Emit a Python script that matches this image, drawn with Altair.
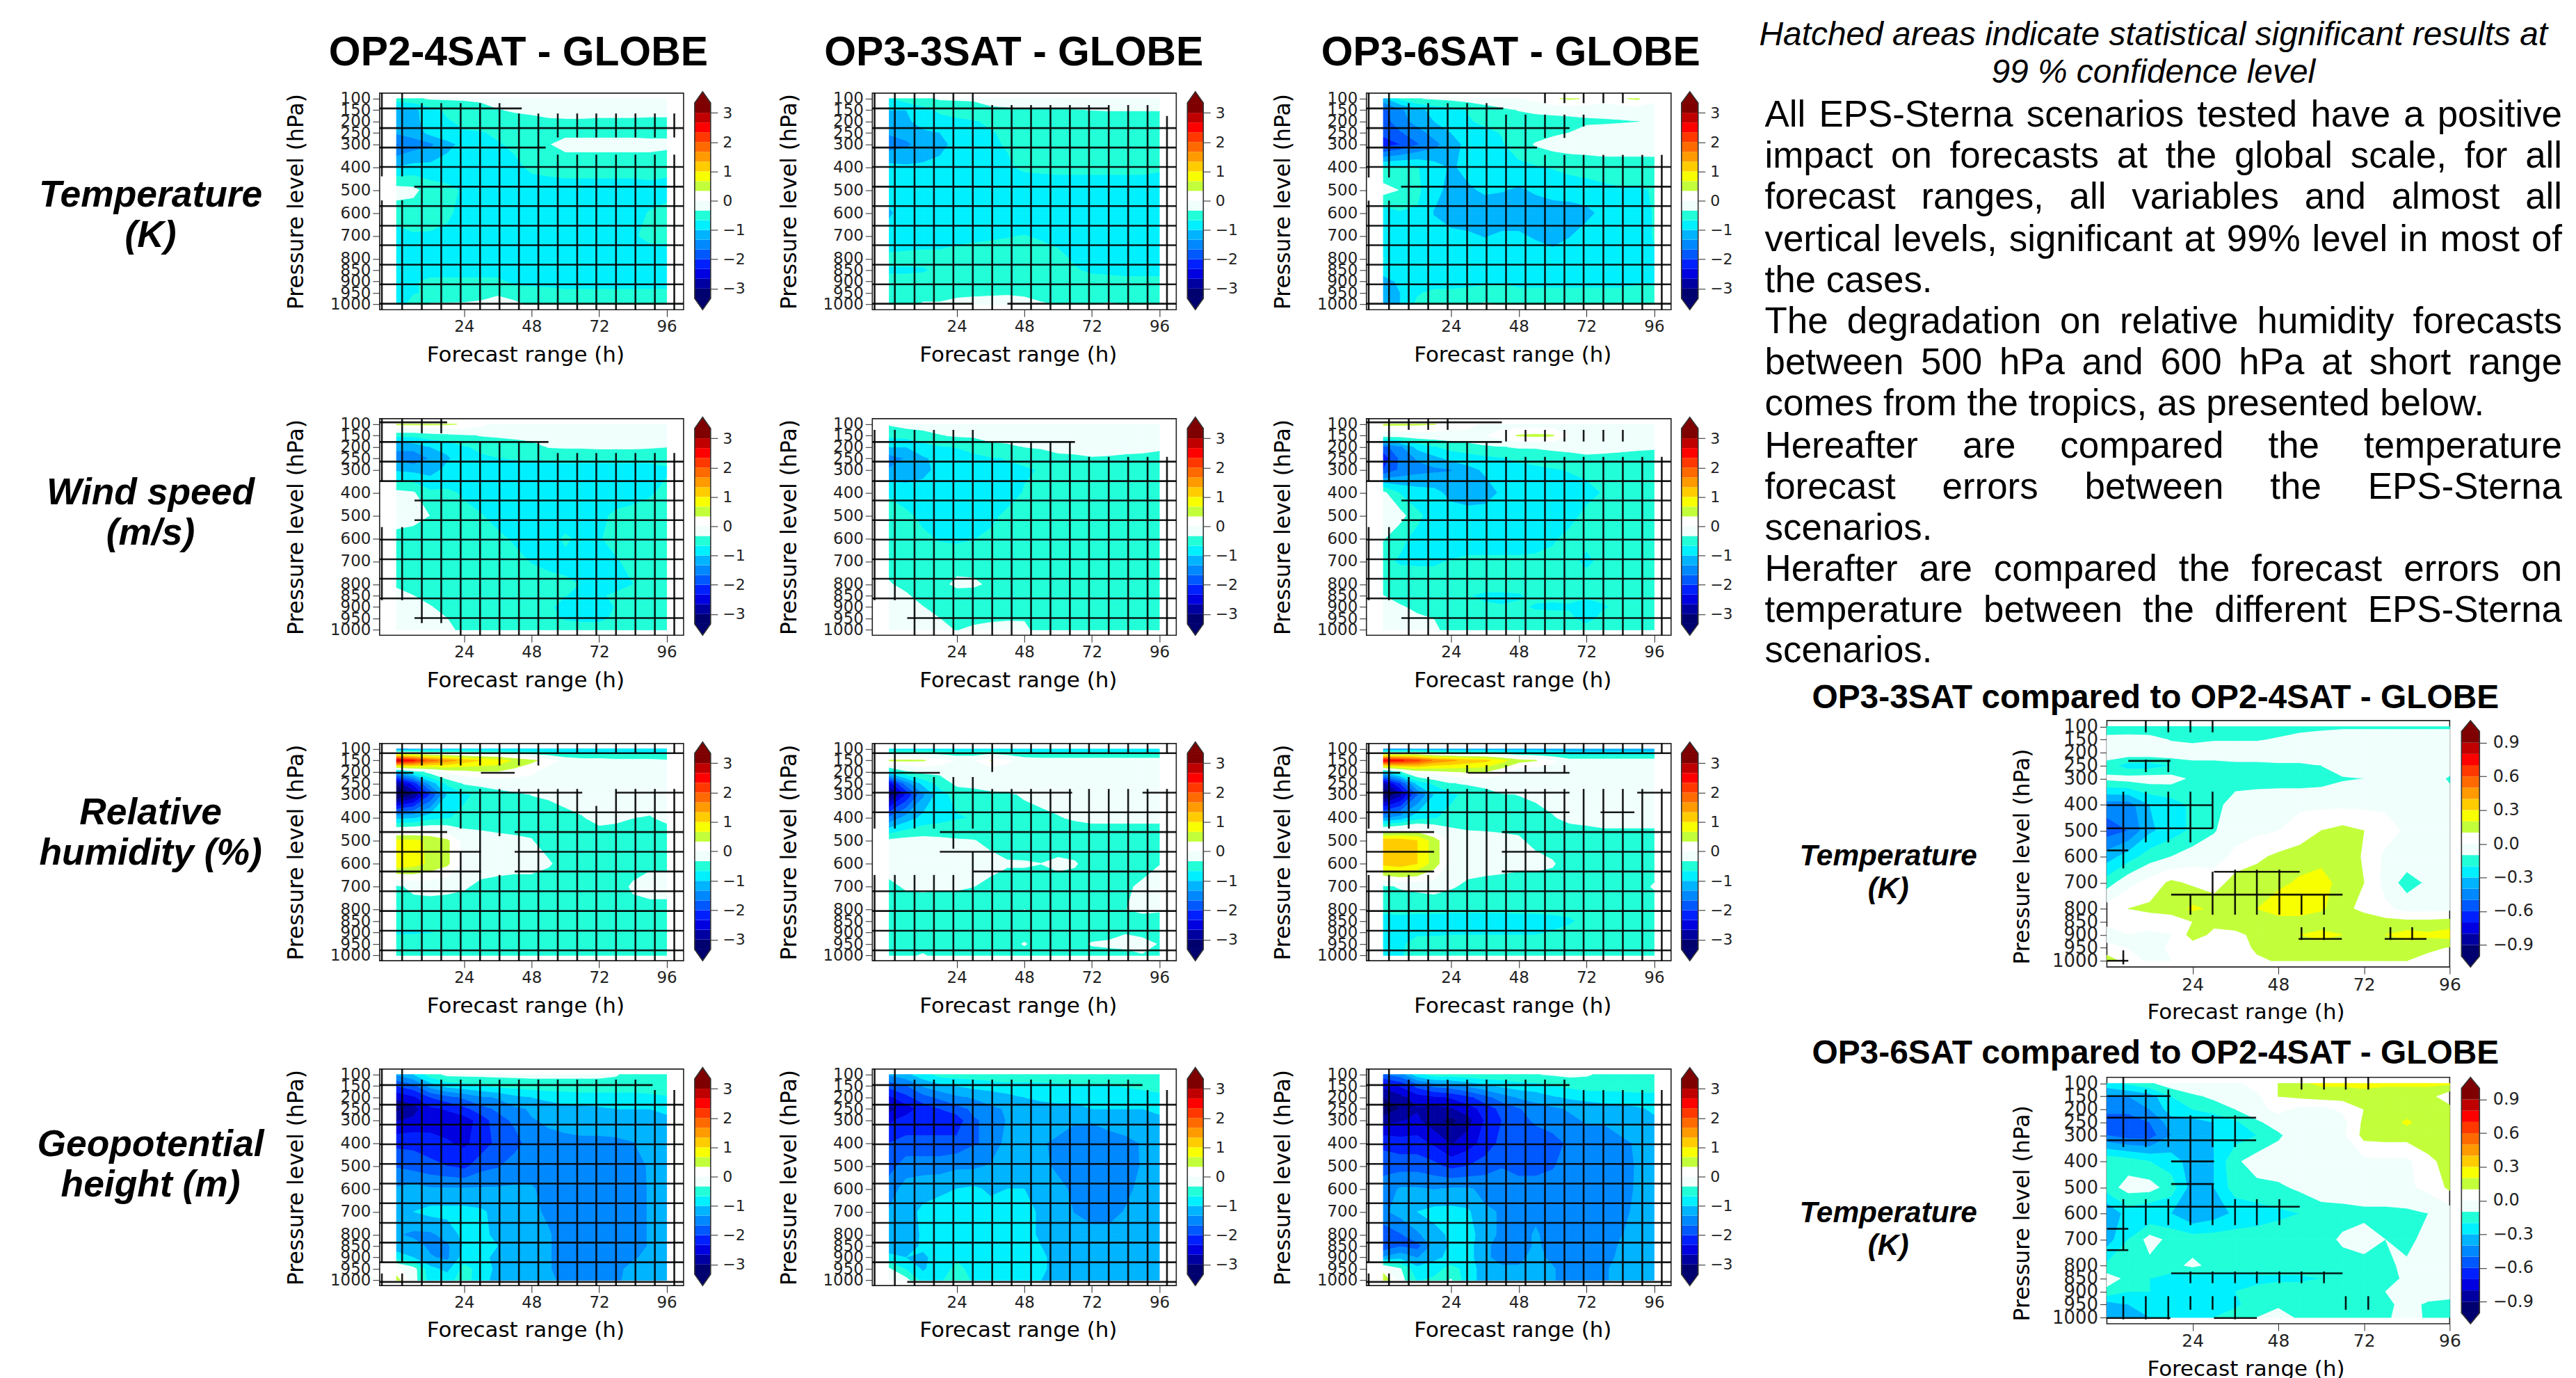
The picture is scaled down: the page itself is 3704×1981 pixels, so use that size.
import altair as alt
import pandas as pd

alt.data_transformers.disable_max_rows()

HOURS = [0, 6, 12, 18, 24, 30, 36, 42, 48, 54, 60, 66, 72, 78, 84, 90, 96]
LEVELS = [100, 150, 200, 250, 300, 400, 500, 600, 700, 800, 850, 900, 950, 1000]
COLORS = ["#00006f", "#0000a0", "#0000e0", "#0020ff", "#0058ff", "#0088ff", "#00b4ff", "#00f0ff", "#22ffd8", "#f0fffc",
          "#ffffff", "#c2ff3a", "#f8ff00", "#ffcc00", "#ff9a00", "#ff6a00", "#ff3800", "#ff0000", "#c00000", "#7f0000"]

T_OP2 = [
 [-.5,-.4,-.3,-.3,-.3,-.3,-.2,-.2,-.2,-.2,-.2,-.2,-.2,-.2,-.2,-.2,-.2],
 [-1.2,-1.1,-.8,-.6,-.5,-.4,-.35,-.3,-.25,-.2,-.2,-.2,-.2,-.2,-.2,-.2,-.2],
 [-1.2,-1.1,-.85,-.7,-.6,-.5,-.5,-.45,-.45,-.4,-.38,-.38,-.4,-.4,-.4,-.42,-.42],
 [-1.3,-1.2,-.9,-.8,-.7,-.7,-.6,-.5,-.5,-.5,-.4,-.4,-.4,-.4,-.4,-.42,-.42],
 [-1.7,-1.5,-1.4,-1.1,-.9,-.8,-.7,-.6,-.5,-.35,-.25,-.25,-.25,-.25,-.25,-.25,-.25],
 [-1,-.9,-.9,-.85,-.8,-.8,-.8,-.75,-.6,-.55,-.5,-.5,-.5,-.5,-.5,-.5,-.6],
 [-.2,-.25,-.5,-.6,-.7,-.8,-.85,-.85,-.85,-.85,-.85,-.85,-.85,-.85,-.85,-.8,-.75],
 [-.5,-.5,-.55,-.6,-.8,-.8,-.8,-.8,-.8,-.8,-.8,-.8,-.8,-.8,-.75,-.65,-.6],
 [-.8,-.7,-.7,-.75,-.8,-.8,-.8,-.8,-.8,-.8,-.8,-.8,-.8,-.8,-.7,-.6,-.6],
 [-.8]*17,
 [-.8]*17,
 [-.8,-.7,-.6,-.6,-.6,-.6,-.6,-.75,-.8,-.8,-.8,-.8,-.8,-.8,-.8,-.8,-.8],
 [-.9,-.7,-.6,-.55,-.5,-.5,-.4,-.5,-.5,-.55,-.6,-.6,-.6,-.6,-.6,-.6,-.6],
 [-.9,-.5,-.3,-.3,-.3,-.25,-.15,-.25,-.4,-.5,-.5,-.5,-.5,-.5,-.5,-.5,-.4]]
T_OP3 = [
 [-.7,-.5,-.4,-.3,-.3,-.3,-.25,-.25,-.25,-.25,-.25,-.25,-.25,-.25,-.25,-.25,-.25],
 [-1,-1,-.8,-.6,-.5,-.45,-.38,-.36,-.35,-.35,-.35,-.34,-.33,-.32,-.32,-.32,-.32],
 [-1.1,-1.05,-.9,-.8,-.75,-.7,-.6,-.5,-.5,-.5,-.5,-.5,-.5,-.5,-.5,-.5,-.5],
 [-1.3,-1.2,-1.05,-1,-.9,-.8,-.7,-.6,-.55,-.5,-.5,-.5,-.5,-.5,-.5,-.5,-.5],
 [-1.5,-1.4,-1.2,-1.1,-.9,-.8,-.7,-.65,-.55,-.5,-.5,-.5,-.5,-.5,-.5,-.5,-.5],
 [-.9,-.95,-.95,-.9,-.85,-.8,-.8,-.7,-.62,-.6,-.58,-.58,-.58,-.58,-.58,-.58,-.62],
 [-.85]*17,
 [-1.05,-.85,-.85,-.85,-.85,-.85,-.85,-.85,-.85,-.85,-.85,-.85,-.85,-.85,-.85,-.85,-.85],
 [-.85,-.8,-.8,-.8,-.75,-.72,-.7,-.68,-.66,-.7,-.75,-.8,-.8,-.8,-.8,-.8,-.8],
 [-.6,-.6,-.58,-.58,-.55,-.55,-.55,-.55,-.55,-.55,-.6,-.7,-.8,-.8,-.8,-.8,-.8],
 [-.7,-.7,-.7,-.6,-.55,-.55,-.55,-.55,-.55,-.55,-.6,-.65,-.7,-.72,-.75,-.75,-.75],
 [-.6,-.6,-.55,-.5,-.5,-.5,-.5,-.5,-.5,-.5,-.55,-.6,-.6,-.6,-.6,-.6,-.6],
 [-.5,-.5,-.45,-.45,-.4,-.4,-.4,-.38,-.4,-.45,-.5,-.5,-.5,-.5,-.5,-.5,-.5],
 [-.5,-.45,-.3,-.3,-.25,-.2,-.15,-.15,-.2,-.3,-.35,-.35,-.35,-.3,-.35,-.35,-.4]]
T_OP6 = [
 [-1.1,-.6,-.35,-.3,-.25,-.2,-.15,-.1,0,.1,.3,.38,.3,.15,.3,.38,.1],
 [-1.8,-1.4,-1.1,-.9,-.8,-.65,-.5,-.4,-.32,-.25,-.2,-.2,-.2,-.2,-.2,-.15,-.15],
 [-1.8,-1.5,-1.2,-1,-.85,-.7,-.6,-.6,-.5,-.5,-.5,-.45,-.4,-.38,-.36,-.34,-.3],
 [-1.9,-1.7,-1.5,-1.2,-1,-.85,-.75,-.65,-.55,-.5,-.4,-.33,-.2,-.2,-.2,-.2,-.2],
 [-2.2,-2,-1.7,-1.45,-1.15,-.9,-.8,-.7,-.5,-.3,-.2,-.15,-.15,-.15,-.15,-.15,-.2],
 [-.65,-.6,-.65,-.85,-1.05,-.9,-.85,-.8,-.75,-.7,-.65,-.6,-.55,-.5,-.5,-.5,-.45],
 [-.2,-.35,-.6,-.9,-1.1,-1.05,-.95,-.98,-1.05,-.95,-.85,-.8,-.8,-.75,-.7,-.7,-.65],
 [-.85,-.7,-.7,-1.02,-1.2,-1.2,-1.2,-1.2,-1.2,-1.2,-1.2,-1.2,-1.1,-.9,-.8,-.8,-.65],
 [-1,-.8,-.8,-.85,-.9,-.95,-1.02,-.95,-.95,-1.05,-1.2,-1.02,-.85,-.8,-.8,-.8,-.65],
 [-.65,-.8,-.8,-.8,-.8,-.8,-.8,-.8,-.8,-.8,-.8,-.8,-.8,-.8,-.8,-.8,-.7],
 [-.9,-.85,-.8,-.8,-.8,-.8,-.8,-.8,-.8,-.8,-.95,-.8,-.8,-.8,-.8,-.8,-.75],
 [-1.1,-.95,-.75,-.8,-.8,-.8,-.75,-.7,-.75,-.75,-.75,-.75,-.75,-.75,-.75,-.7,-.7],
 [-1.2,-1,-.7,-.6,-.6,-.55,-.5,-.55,-.6,-.6,-.6,-.6,-.6,-.6,-.6,-.6,-.6],
 [-1.3,-1,-.6,-.5,-.45,-.4,-.3,-.35,-.4,-.5,-.5,-.5,-.5,-.5,-.5,-.5,-.6]]
W_OP2 = [
 [.4,.4,.4,.38,.3,.1,-.1,-.15,-.15,-.15,-.15,-.15,-.15,-.15,-.15,-.15,-.15],
 [-.6,-.6,-.5,-.45,-.38,-.32,-.3,-.28,-.25,-.22,-.2,-.2,-.2,-.2,-.2,-.2,-.2],
 [-1.3,-1.2,-1,-.9,-.7,-.6,-.5,-.45,-.42,-.32,-.3,-.3,-.28,-.28,-.28,-.3,-.33],
 [-1.4,-1.6,-1.3,-1.05,-.8,-.72,-.68,-.65,-.62,-.6,-.58,-.58,-.58,-.58,-.58,-.58,-.6],
 [-1.05,-1.1,-1.15,-.9,-.85,-.8,-.8,-.8,-.8,-.8,-.8,-.8,-.8,-.8,-.8,-.8,-.7],
 [-.25,-.3,-.6,-.62,-.7,-.8,-.85,-.85,-.85,-.85,-.85,-.85,-.85,-.85,-.8,-.7,-.6],
 [-.1,-.2,-.34,-.55,-.6,-.65,-.75,-.85,-.85,-.85,-.85,-.85,-.75,-.6,-.55,-.55,-.55],
 [-.5,-.5,-.5,-.55,-.55,-.6,-.62,-.7,-.8,-.8,-.62,-.75,-.7,-.55,-.55,-.55,-.55],
 [-.5,-.5,-.5,-.5,-.55,-.55,-.55,-.6,-.68,-.72,-.75,-.8,-.8,-.7,-.58,-.55,-.55],
 [-.4,-.45,-.5,-.5,-.5,-.5,-.5,-.5,-.55,-.6,-.62,-.68,-.75,-.8,-.67,-.5,-.5],
 [-.2,-.33,-.5,-.5,-.5,-.5,-.5,-.5,-.55,-.6,-.66,-.72,-.72,-.6,-.55,-.5,-.5],
 [-.2,-.25,-.3,-.5,-.5,-.5,-.5,-.5,-.5,-.6,-.8,-.8,-.8,-.65,-.55,-.5,-.5],
 [-.2,-.2,-.25,-.33,-.5,-.5,-.5,-.5,-.5,-.6,-.7,-.75,-.75,-.6,-.5,-.5,-.5],
 [-.15,-.2,-.25,-.3,-.37,-.5,-.5,-.5,-.5,-.5,-.5,-.5,-.5,-.5,-.5,-.5,-.5]]
W_OP3 = [
 [-.3,-.2,-.2,-.2,-.15,-.15,-.15,-.15,-.15,-.15,-.15,-.15,-.15,-.15,-.15,-.15,-.15],
 [-.6,-.55,-.45,-.35,-.3,-.3,-.25,-.25,-.2,-.2,-.2,-.2,-.2,-.2,-.2,-.2,-.2],
 [-1,-1,-.8,-.7,-.65,-.5,-.4,-.37,-.33,-.3,-.28,-.27,-.25,-.25,-.26,-.28,-.3],
 [-1.5,-1.3,-1.05,-.9,-.85,-.8,-.7,-.65,-.6,-.5,-.38,-.37,-.35,-.36,-.38,-.38,-.4],
 [-1.3,-1.2,-1.1,-.9,-.85,-.8,-.8,-.75,-.7,-.65,-.6,-.55,-.5,-.5,-.5,-.5,-.5],
 [-.7,-.85,-.85,-.85,-.85,-.85,-.85,-.8,-.65,-.55,-.5,-.5,-.5,-.5,-.5,-.5,-.5],
 [-.55,-.6,-.75,-.85,-.85,-.85,-.75,-.6,-.5,-.5,-.5,-.5,-.5,-.5,-.5,-.5,-.5],
 [-.5,-.55,-.6,-.7,-.72,-.68,-.6,-.5,-.5,-.5,-.5,-.5,-.5,-.5,-.5,-.5,-.5],
 [-.5]*17,
 [-.3,-.45,-.5,-.45,-.25,-.27,-.4,-.5,-.5,-.5,-.5,-.5,-.5,-.5,-.5,-.5,-.5],
 [-.2,-.28,-.5,-.5,-.5,-.5,-.5,-.5,-.5,-.5,-.5,-.5,-.5,-.5,-.5,-.5,-.5],
 [-.2,-.2,-.32,-.5,-.5,-.5,-.5,-.5,-.5,-.5,-.5,-.5,-.5,-.5,-.5,-.5,-.5],
 [-.15,-.2,-.25,-.33,-.5,-.45,-.4,-.37,-.36,-.5,-.5,-.5,-.5,-.5,-.5,-.5,-.5],
 [-.15,-.15,-.2,-.25,-.35,-.25,-.2,-.2,-.25,-.5,-.5,-.5,-.5,-.5,-.5,-.5,-.5]]
W_OP6 = [
 [.4,.4,.38,.35,.2,.15,-.1,-.15,-.15,-.15,-.15,-.15,-.15,-.15,-.15,-.15,-.15],
 [-.2,-.2,-.15,-.15,-.15,-.15,0,.2,.36,.4,.36,0,-.1,-.15,-.15,-.15,-.15],
 [-1.8,-1.4,-.9,-.7,-.55,-.45,-.4,-.35,-.3,-.3,-.28,-.28,-.25,-.25,-.28,-.28,-.3],
 [-2.2,-1.6,-1.3,-1.1,-.9,-.85,-.75,-.7,-.6,-.55,-.45,-.4,-.38,-.4,-.4,-.45,-.45],
 [-2,-1.6,-1.45,-1.4,-1.35,-1.1,-.95,-.85,-.8,-.75,-.7,-.65,-.6,-.6,-.6,-.6,-.55],
 [-.25,-.7,-.85,-.9,-1.1,-1.2,-1.15,-.95,-.85,-.85,-.8,-.8,-.75,-.65,-.6,-.6,-.5],
 [-.15,-.2,-.6,-.8,-.85,-.85,-.85,-.85,-.85,-.85,-.85,-.75,-.6,-.55,-.55,-.55,-.5],
 [-.3,-.6,-.75,-.85,-.85,-.85,-.85,-.85,-.85,-.8,-.7,-.6,-.6,-.55,-.55,-.55,-.55],
 [-.6,-.7,-.7,-.7,-.65,-.6,-.6,-.6,-.6,-.6,-.6,-.6,-.72,-.6,-.55,-.55,-.55],
 [-.5,-.5,-.55,-.55,-.55,-.55,-.55,-.55,-.55,-.55,-.55,-.55,-.55,-.55,-.55,-.55,-.55],
 [-.33,-.45,-.55,-.6,-.6,-.65,-.72,-.72,-.7,-.6,-.6,-.6,-.6,-.6,-.6,-.6,-.6],
 [-.2,-.3,-.4,-.55,-.6,-.6,-.62,-.65,-.62,-.7,-.72,-.7,-.85,-.7,-.6,-.6,-.6],
 [-.15,-.2,-.28,-.34,-.5,-.5,-.5,-.5,-.5,-.55,-.55,-.6,-.8,-.55,-.55,-.55,-.55],
 [-.15,-.15,-.2,-.25,-.5,-.5,-.5,-.5,-.5,-.5,-.5,-.5,-.5,-.5,-.5,-.5,-.5]]
R_OP2 = [
 [-1.4,-1.3,-1.2,-1.1,-1,-1,-1,-1,-1,-1,-1,-1,-1,-1,-1,-1,-1],
 [2.8,2.4,1.8,1.5,1.2,1,.9,.6,.4,.2,-.1,-.2,-.2,-.25,-.25,-.25,-.3],
 [-1.2,-.6,-.2,.1,.2,.3,.3,.2,.1,-.2,-.2,-.2,-.2,-.2,-.2,-.2,-.2],
 [-2.9,-2.2,-1.2,-.6,-.3,-.25,-.2,-.2,-.2,-.2,-.2,-.2,-.2,-.2,-.2,-.2,-.2],
 [-3.5,-3,-2,-1,-.75,-.55,-.45,-.38,-.33,-.3,-.25,-.2,-.2,-.2,-.2,-.2,-.2],
 [-1.1,-1.05,-.8,-.7,-.55,-.5,-.5,-.5,-.45,-.45,-.4,-.35,-.25,-.28,-.33,-.35,-.28],
 [.75,.75,.6,.4,-.1,-.2,-.25,-.28,-.32,-.45,-.5,-.5,-.5,-.5,-.5,-.5,-.5],
 [.9,.8,.6,.4,-.1,-.2,-.2,-.2,-.2,-.3,-.45,-.5,-.5,-.5,-.5,-.4,-.4],
 [-.4,-.25,-.22,-.25,-.3,-.4,-.45,-.5,-.5,-.5,-.5,-.5,-.5,-.5,-.28,-.2,-.2],
 [-.5,-.5,-.5,-.5,-.5,-.5,-.5,-.5,-.5,-.5,-.5,-.5,-.5,-.5,-.45,-.45,-.45],
 [-.5]*17,
 [-.7,-.7,-.68,-.6,-.5,-.5,-.5,-.5,-.5,-.5,-.5,-.5,-.5,-.5,-.5,-.5,-.5],
 [-.5]*17,
 [-.5]*17]
R_OP3 = [
 [-.85]*17,
 [.38,.38,.36,.2,0,0,.34,.1,-.15,-.2,-.2,-.2,-.2,-.2,-.2,-.2,-.2],
 [-.8,-.4,-.25,-.25,-.2,-.2,-.2,-.2,-.2,-.2,-.2,-.2,-.2,-.2,-.2,-.2,-.2],
 [-2.5,-1.5,-.9,-.55,-.25,-.25,-.2,-.2,-.2,-.2,-.2,-.2,-.2,-.2,-.2,-.2,-.2],
 [-3.2,-2.3,-1.4,-.8,-.55,-.45,-.4,-.38,-.3,-.25,-.22,-.2,-.2,-.2,-.2,-.2,-.2],
 [-1.6,-1.2,-.9,-.8,-.7,-.65,-.55,-.5,-.45,-.4,-.35,-.3,-.28,-.28,-.28,-.28,-.28],
 [-.25,-.2,-.2,-.25,-.3,-.32,-.4,-.5,-.55,-.55,-.55,-.55,-.5,-.5,-.5,-.5,-.5],
 [-.2,-.2,-.2,-.2,-.2,-.2,-.25,-.3,-.3,-.33,-.25,-.3,-.5,-.5,-.5,-.45,-.34],
 [-.4,-.3,-.28,-.3,-.3,-.33,-.4,-.5,-.5,-.5,-.5,-.5,-.5,-.5,-.38,-.28,-.25],
 [-.5,-.5,-.5,-.5,-.5,-.5,-.5,-.45,-.33,-.45,-.5,-.5,-.5,-.5,-.34,-.25,-.3],
 [-.5,-.5,-.5,-.5,-.5,-.5,-.5,-.5,-.5,-.5,-.5,-.5,-.5,-.5,-.5,-.5,-.45],
 [-.5,-.5,-.5,-.5,-.5,-.5,-.5,-.5,-.5,-.5,-.5,-.5,-.5,-.5,-.36,-.4,-.5],
 [-.5,-.5,-.5,-.5,-.5,-.5,-.5,-.5,-.3,-.5,-.5,-.45,-.3,-.25,-.2,-.25,-.35],
 [-.45,-.4,-.3,-.45,-.5,-.5,-.5,-.5,-.5,-.5,-.5,-.5,-.5,-.5,-.5,-.35,-.45]]
R_OP6 = [
 [-1.5,-1.4,-1.3,-1.3,-1.3,-1.3,-1.25,-1.25,-1.2,-1.2,-1.2,-1.2,-1.2,-1.2,-1.2,-1.2,-1.2],
 [2.6,2.4,2.1,1.6,1.4,1.2,1.1,.8,.45,.35,.1,-.2,-.2,-.2,-.2,-.2,-.2],
 [-1,-.4,.1,.2,.3,.35,.34,.1,-.2,-.2,-.2,-.2,-.2,-.2,-.2,-.2,-.2],
 [-2.8,-2,-.9,-.6,-.35,-.3,-.25,-.2,-.2,-.2,-.2,-.2,-.2,-.2,-.2,-.2,-.2],
 [-3.4,-2.8,-1.7,-1,-.75,-.55,-.45,-.35,-.33,-.3,-.25,-.2,-.2,-.2,-.2,-.2,-.2],
 [-1.4,-1.2,-.8,-.7,-.55,-.5,-.5,-.5,-.45,-.4,-.35,-.28,-.25,-.2,-.2,-.2,-.2],
 [1.2,1.2,1,.5,-.05,-.2,-.22,-.25,-.3,-.4,-.5,-.5,-.5,-.5,-.5,-.5,-.5],
 [1.1,1.2,1,.5,-.05,-.2,-.2,-.2,-.25,-.25,-.3,-.5,-.5,-.5,-.5,-.5,-.5],
 [-.4,-.3,-.25,-.2,-.3,-.4,-.45,-.5,-.5,-.5,-.5,-.5,-.5,-.5,-.5,-.45,-.3],
 [-.65,-.6,-.6,-.6,-.6,-.6,-.6,-.6,-.6,-.6,-.6,-.6,-.6,-.55,-.55,-.55,-.55],
 [-.7,-.75,-.8,-.8,-.85,-.85,-.85,-.85,-.8,-.8,-.75,-.7,-.6,-.55,-.55,-.55,-.55],
 [-.8,-.8,-.7,-.7,-.7,-.7,-.7,-.7,-.7,-.7,-.65,-.6,-.6,-.6,-.6,-.6,-.6],
 [-.8,-.7,-.6,-.6,-.55,-.55,-.55,-.55,-.55,-.55,-.55,-.55,-.55,-.55,-.55,-.55,-.55],
 [-.8,-.7,-.55,-.5,-.5,-.5,-.5,-.5,-.5,-.5,-.5,-.5,-.5,-.5,-.5,-.5,-.5]]
G_OP2 = [
 [-1.3,-1,-.5,-.25,-.25,-.25,-.25,-.25,-.25,-.25,-.25,-.25,-.25,-.3,-.5,-.5,-.5],
 [-2,-1.8,-1.2,-.9,-.8,-.7,-.6,-.55,-.5,-.5,-.5,-.5,-.5,-.5,-.5,-.5,-.5],
 [-2.6,-2.4,-2,-1.8,-1.6,-1.4,-1.3,-1.1,-1,-.9,-.85,-.8,-.8,-.8,-.8,-.75,-.7],
 [-3.1,-2.8,-2.4,-2.3,-2.1,-1.8,-1.6,-1.4,-1.3,-1.2,-1.1,-1.1,-1.05,-1,-1,-1,-.95],
 [-2.7,-2.6,-2.5,-2.5,-2.5,-2.2,-1.8,-1.6,-1.35,-1.3,-1.25,-1.2,-1.2,-1.15,-1.1,-1.1,-1.05],
 [-2.1,-2.1,-2.2,-2.3,-2.4,-2.2,-1.9,-1.8,-1.5,-1.4,-1.4,-1.4,-1.4,-1.4,-1.35,-1.2,-1.2],
 [-1.7,-1.8,-1.9,-2,-2.1,-1.8,-1.7,-1.5,-1.5,-1.5,-1.5,-1.5,-1.5,-1.5,-1.45,-1.3,-1.2],
 [-1.3,-1.2,-1.3,-1.3,-1.3,-1.3,-1.3,-1.3,-1.3,-1.45,-1.5,-1.5,-1.5,-1.5,-1.5,-1.3,-1.2],
 [-1.2,-1,-.9,-.9,-.9,-.95,-1.1,-1.1,-1.25,-1.4,-1.5,-1.5,-1.5,-1.5,-1.5,-1.3,-1.2],
 [-1.3,-1.4,-1.4,-1.2,-.9,-.9,-1.1,-1.2,-1.2,-1.3,-1.5,-1.5,-1.5,-1.5,-1.5,-1.3,-1.2],
 [-1.2,-1.2,-1.4,-1.4,-.95,-.85,-1,-1.1,-1.2,-1.3,-1.5,-1.5,-1.5,-1.5,-1.5,-1.3,-1.2],
 [-.8,-1,-1.3,-1.4,-.85,-.8,-1.2,-1.1,-1.1,-1.3,-1.5,-1.5,-1.5,-1.5,-1.4,-1.2,-1.2],
 [.1,-.2,-.9,-1.1,-.55,-.8,-1.1,-1.1,-1.1,-1.3,-1.5,-1.5,-1.5,-1.45,-1.2,-1.2,-1.2],
 [.5,-.2,-.8,-.8,-.5,-.9,-1.1,-1.1,-1.1,-1.2,-1.5,-1.5,-1.5,-1.4,-1.2,-1.2,-1.2]]
G_OP3 = [
 [-1.3,-1.1,-.8,-.55,-.5,-.5,-.45,-.4,-.4,-.4,-.4,-.4,-.45,-.5,-.5,-.5,-.5],
 [-1.9,-1.7,-1.3,-1.1,-1,-.9,-.85,-.8,-.8,-.8,-.75,-.7,-.7,-.7,-.65,-.6,-.55],
 [-2.4,-2.1,-1.8,-1.6,-1.4,-1.3,-1.2,-1.1,-1,-.95,-.9,-.9,-.85,-.85,-.8,-.8,-.75],
 [-2.8,-2.5,-2.2,-2,-1.8,-1.6,-1.4,-1.3,-1.2,-1.1,-1.1,-1.1,-1,-1,-1,-1,-.95],
 [-2.4,-2.2,-2.2,-2.2,-2.2,-1.7,-1.6,-1.3,-1.25,-1.25,-1.2,-1.3,-1.3,-1.2,-1.1,-1.1,-1.05],
 [-2,-1.9,-1.9,-1.9,-1.9,-1.7,-1.6,-1.2,-1.2,-1.3,-1.4,-1.5,-1.55,-1.5,-1.45,-1.3,-1.2],
 [-1.8,-1.5,-1.5,-1.5,-1.4,-1.4,-1.3,-1.3,-1.2,-1.25,-1.4,-1.5,-1.5,-1.5,-1.5,-1.3,-1.2],
 [-1.5,-1.2,-1.1,-1.05,-1,-.95,-1.05,-1,-1,-1.15,-1.25,-1.4,-1.5,-1.5,-1.45,-1.2,-1.2],
 [-1.3,-1.1,-.95,-.9,-.9,-.9,-.9,-.9,-.9,-1.05,-1.2,-1.35,-1.5,-1.5,-1.3,-1.15,-1.1],
 [-1.1,-1.2,-.95,-.9,-.8,-.75,-.8,-.85,-.9,-1.05,-1.1,-1.15,-1.2,-1.2,-1.1,-1.1,-1.05],
 [-1.2,-1.15,-.95,-.85,-.75,-.75,-.8,-.85,-.9,-1,-1.1,-1.15,-1.15,-1.15,-1.1,-1.1,-1.05],
 [-.9,-1,-1.05,-.9,-.7,-.75,-.8,-.85,-.9,-.95,-1.1,-1.1,-1.15,-1.15,-1.1,-1.1,-1.05],
 [-.3,-.7,-1.05,-.8,-.6,-.75,-.85,-.85,-.9,-.95,-1.1,-1.1,-1.1,-1.1,-1.1,-1.1,-1.1],
 [-.2,-.2,-.8,-.7,-.55,-.7,-.85,-.9,-.95,-1,-1.1,-1.1,-1.1,-1.1,-1.1,-1.1,-1.1]]
G_OP6 = [
 [-1.7,-1.5,-.8,-.5,-.5,-.45,-.4,-.4,-.35,-.35,-.3,-.25,-.3,-.4,-.5,-.55,-.55],
 [-2.6,-2.3,-1.9,-1.6,-1.5,-1.3,-1.1,-.95,-.85,-.8,-.7,-.6,-.5,-.5,-.5,-.5,-.5],
 [-3,-2.8,-2.5,-2.4,-2.3,-2.1,-1.8,-1.5,-1.3,-1.2,-1.05,-.95,-.9,-.9,-.85,-.8,-.8],
 [-3.3,-3,-2.7,-2.8,-2.7,-2.5,-2.2,-1.9,-1.7,-1.5,-1.4,-1.3,-1.2,-1.1,-1.1,-1.05,-.95],
 [-2.8,-2.7,-2.6,-2.9,-3.1,-2.8,-2.3,-2,-1.8,-1.6,-1.5,-1.4,-1.3,-1.3,-1.2,-1.1,-1.05],
 [-2.1,-2.2,-2.2,-2.4,-2.7,-2.5,-2.2,-1.9,-1.9,-1.9,-1.8,-1.6,-1.5,-1.5,-1.4,-1.3,-1.2],
 [-1.8,-1.8,-1.8,-1.9,-2.1,-2,-1.85,-1.7,-1.8,-1.8,-1.7,-1.5,-1.5,-1.5,-1.5,-1.3,-1.2],
 [-1.5,-1.3,-1.3,-1.35,-1.3,-1.3,-1.4,-1.4,-1.5,-1.5,-1.5,-1.5,-1.5,-1.5,-1.45,-1.3,-1.2],
 [-1.4,-1.2,-1,-.9,-.9,-.95,-1.3,-1.35,-1.4,-1.4,-1.5,-1.5,-1.5,-1.5,-1.45,-1.25,-1.2],
 [-1.9,-1.7,-1.4,-1.1,-.95,-.85,-1.2,-1.4,-1.45,-1.3,-1.45,-1.5,-1.5,-1.5,-1.35,-1.25,-1.2],
 [-1.9,-1.7,-1.8,-1.2,-.95,-.85,-1.3,-1.4,-1.45,-1.3,-1.4,-1.5,-1.5,-1.5,-1.3,-1.2,-1.2],
 [-1.3,-1.1,-1.35,-1.1,-.9,-.85,-1.3,-1.4,-1.4,-1.25,-1.4,-1.5,-1.5,-1.5,-1.25,-1.2,-1.2],
 [.1,-.3,-.9,-.8,-.55,-.8,-1.2,-1.3,-1.3,-1.2,-1.3,-1.5,-1.5,-1.4,-1.2,-1.15,-1.15],
 [.7,-.2,-.7,-.6,-.3,-.9,-1.1,-1.2,-1.2,-1.15,-1.3,-1.5,-1.5,-1.4,-1.2,-1.15,-1.15]]
C_OP3 = [
 [-.2,-.2,-.2,-.2,-.2,-.18,-.15,-.15,-.15,-.15,-.13,-.12,-.12,-.12,-.12,-.12,-.12],
 [-.05,-.04,-.05,-.11,-.13,-.11,-.11,-.11,-.09,-.05,-.04,-.03,-.03,-.03,-.03,-.03,-.03],
 [-.03]*17,
 [-.15,-.25,-.25,-.2,-.15,-.15,-.13,-.13,-.12,-.12,-.1,-.05,-.03,-.03,-.03,-.03,-.03],
 [-.08,-.06,-.05,-.06,-.12,-.13,-.15,-.15,-.15,-.15,-.14,-.11,-.1,-.03,-.02,-.02,-.12],
 [-.45,-.45,-.3,-.25,-.18,-.14,-.05,-.03,-.02,-.02,-.02,-.02,-.02,-.02,-.02,-.02,-.02],
 [-.55,-.5,-.32,-.25,-.18,-.11,-.03,-.02,0,.05,.1,.13,.1,.05,-.02,-.03,-.03],
 [-.35,-.25,-.15,-.1,-.05,-.03,.02,.08,.12,.14,.16,.15,.09,-.02,-.03,-.04,-.04],
 [-.15,-.03,.04,.12,.08,.04,.15,.15,.17,.22,.25,.15,.1,-.03,-.15,-.08,-.04],
 [.05,.1,.12,.14,.22,.18,.15,.2,.27,.27,.22,.12,.08,.02,-.03,-.03,-.02],
 [.02,.05,.05,.05,.1,.12,.14,.15,.14,.14,.12,.14,.14,.13,.12,.12,.13],
 [-.03,0,-.02,0,.14,.08,.08,.12,.14,.2,.24,.2,.14,.2,.24,.22,.25],
 [.02,0,-.02,.01,.05,.03,.04,.12,.14,.14,.14,.14,.14,.14,.14,.13,.09],
 [.16,.05,-.02,0,.02,.03,.05,.08,.11,.12,.12,.12,.12,.12,.1,.05,.03]]
C_OP6 = [
 [-.25,-.18,-.12,-.04,-.02,-.02,-.02,.05,.1,.18,.22,.22,.24,.22,.22,.22,.22],
 [-.4,-.4,-.35,-.2,-.12,-.08,-.04,-.02,.1,.12,.14,.14,.14,.14,.14,.14,.02],
 [-.45,-.45,-.4,-.25,-.2,-.15,-.1,-.03,.03,-.02,-.03,.02,.1,.13,.14,.14,.14],
 [-.6,-.6,-.5,-.35,-.35,-.3,-.22,-.12,-.05,-.03,-.04,-.03,.12,.14,.22,.14,.13],
 [-.5,-.55,-.55,-.4,-.35,-.3,-.25,-.2,-.12,-.03,-.03,-.02,.13,.14,.14,.15,.13],
 [-.12,-.15,-.2,-.25,-.35,-.3,-.12,-.05,-.03,-.02,-.02,-.02,-.02,-.02,-.02,.08,.13],
 [-.15,-.06,-.06,-.15,-.35,-.3,-.15,-.13,-.12,-.08,-.04,-.02,-.02,-.02,-.02,.03,.12],
 [-.4,-.25,-.3,-.3,-.4,-.35,-.28,-.25,-.22,-.2,-.15,-.15,-.13,-.13,-.12,-.1,-.05],
 [-.35,-.2,-.06,-.13,-.15,-.15,-.15,-.15,-.15,-.15,-.15,-.08,-.05,-.1,-.14,-.05,-.03],
 [-.18,-.12,-.13,-.13,-.08,-.13,-.15,-.15,-.15,-.15,-.15,-.15,-.14,-.12,-.08,-.05,-.04],
 [-.05,-.13,-.2,-.25,-.25,-.25,-.25,-.22,-.22,-.22,-.2,-.18,-.15,-.12,-.09,-.05,-.03],
 [-.13,-.2,-.2,-.22,-.25,-.22,-.2,-.18,-.15,-.15,-.15,-.15,-.13,-.1,-.05,-.04,-.03],
 [-.35,-.3,-.25,-.25,-.22,-.25,-.22,-.15,-.12,-.12,-.14,-.14,-.14,-.13,-.06,-.12,-.15],
 [-.4,-.35,-.3,-.25,-.22,-.2,-.15,-.1,-.05,-.12,-.13,-.14,-.14,-.12,-.05,-.12,-.15]]

# significance hatching: pressure of horizontal strokes, hour of vertical strokes
HX = [-5.2, 2, 9, 15.9, 22.8, 29.7, 36.6, 43.5, 50.4, 57.3, 64.2, 71, 78, 84.9, 91.8, 98.7]
HP_T = [143, 229, 314, 399, 485, 570, 656, 741, 826, 912, 997]
HP_W = [92, 178, 264, 349, 434, 520, 605, 691, 776, 862, 948]
HP_R = [118, 204, 290, 376, 462, 548, 634, 720, 806, 892, 978]
HP_G = [146, 232, 319, 405, 491, 577, 663, 749, 835, 921, 1007]
R = lambda a, b: list(range(a, b + 1))
T1H = {0: [(-6, 44.5)], 2: [(-6, 53)], 4: [(6.3, 102)]}
T1V = [(R(0, 1), [(76, 440), (545, 1023)]), (R(2, 6), [(120, 1023)]), (R(7, 8), [(165, 1023)]), (R(9, 15), [(165, 270), (345, 1023)])]
T2H = {0: [(-6, 78)], 10: [(-6, 30), (42, 102)]}
T2V = [(R(0, 5), [(76, 1023)]), (R(6, 14), [(128, 1023)]), (R(15, 15), [(176, 1023)])]
T3H = {0: [(-6, 42.5)], 1: [(-6, 66)], 2: [(-6, 54.5)], 4: [(6.3, 102)]}
T3V = [(R(0, 1), [(76, 445), (546, 1023)]), (R(2, 6), [(120, 1023)]), (R(7, 8), [(170, 1023)]), (R(9, 10), [(76, 120), (170, 272), (346, 1023)]),
       (R(11, 11), [(76, 120), (170, 222), (346, 1023)]), (R(12, 13), [(76, 120), (346, 1023)]), (R(14, 15), [(346, 1023)])]
W1H = {0: [(-6, 18)], 1: [(-6, 54)], 4: [(6.4, 102)], 5: [(6.4, 102)], 10: [(6.4, 102)]}
W1V = [(R(0, 1), [(76, 349), (550, 870)]), (R(2, 3), [(76, 140), (178, 970)]), (R(4, 8), [(178, 1023)]), (R(9, 15), [(226, 1023)])]
W2H = {0: [], 1: [(-6, 66)], 10: [(6.4, 102)]}
W2V = [(R(0, 1), [(125, 870)]), (R(2, 5), [(125, 1023)]), (R(6, 10), [(176, 1023)]), (R(11, 15), [(243, 1023)])]
W3H = {0: [(-6, 42)], 1: [(-6, 42)], 4: [(6.4, 102)], 5: [(6.4, 102)], 10: [(6.4, 102)]}
W3V = [(R(0, 1), [(76, 349), (550, 870)]), (R(2, 4), [(76, 125), (178, 1023)]), (R(5, 6), [(178, 1023)]), (R(7, 13), [(125, 176), (243, 1023)]), (R(14, 15), [(243, 1023)])]
R1H = {1: [(-6, 6), (30, 42)], 2: [(-6, 66), (78, 102)], 4: [(-6, 18), (42, 102)], 5: [(-6, 30), (42, 102)], 6: [(-6, 30), (42, 102)]}
R1V = [(R(0, 1), [(76, 1023)]), (R(2, 3), [(76, 172), (222, 1023)]), (R(4, 4), [(76, 172), (274, 447), (548, 1023)]), (R(5, 5), [(76, 172), (274, 1023)]),
       (R(6, 6), [(76, 172), (274, 480), (649, 1023)]), (R(7, 8), [(76, 172), (274, 1023)]), (R(9, 10), [(76, 118), (274, 1023)]),
       (R(11, 11), [(76, 118), (348, 1023)]), (R(12, 15), [(76, 118), (274, 1023)])]
R2H = {1: [(-6, 18)], 2: [(-6, 65), (90, 102)], 4: [(18, 102)], 5: [(18, 102)], 6: [(30, 102)]}
R2V = [(R(0, 1), [(76, 447), (649, 1023)]), (R(2, 3), [(76, 118), (222, 447), (649, 1023)]), (R(4, 4), [(76, 118), (222, 535), (649, 1023)]),
       (R(5, 5), [(76, 118), (222, 447), (548, 1023)]), (R(6, 6), [(76, 200), (274, 1023)]), (R(7, 15), [(76, 118), (274, 1023)])]
R3H = {1: [(-6, 6), (30, 66)], 2: [(-6, 66), (90, 102)], 3: [(-6, 66), (77, 89)], 4: [(-6, 18), (42, 102)], 5: [(-6, 18), (42, 102)], 6: [(-6, 18), (42, 102)]}
R3V = [(R(0, 1), [(76, 447), (649, 1023)]), (R(2, 3), [(76, 118), (222, 447), (649, 1023)]), (R(4, 4), [(76, 118), (274, 1023)]),
       (R(5, 10), [(76, 118), (170, 205), (274, 1023)]), (R(11, 15), [(76, 118), (274, 1023)])]
G1H = {0: [(-6, 91)]}
G1V = [(R(0, 1), [(76, 921), (970, 1023)]), (R(2, 13), [(122, 1023)]), (R(14, 15), [(168, 1023)])]
G2H = {0: [(-6, 90)], 10: [(6.4, 102)]}
G2V = [(R(0, 1), [(76, 1023)]), (R(2, 13), [(122, 1023)]), (R(14, 15), [(168, 1023)])]
G3H = {0: [(-6, 66)]}
G3V = [(R(0, 1), [(76, 921), (970, 1023)]), (R(2, 10), [(122, 1023)]), (R(11, 15), [(168, 1023)])]
C1_RULES_H = [(232, 6, 17.8), (402, 0, 29.6), (491, 0, 29.6), (576, 0, 6), (658, 30, 54), (746, 18, 66), (916, 53.7, 65.8), (916, 77.8, 89.5), (1000, 0, 6)]
C1_RULES_V = [(4.6, 350, 645), (4.6, 960, 1014), (10.9, 77, 122), (10.9, 227, 275), (10.9, 350, 545), (17.2, 77, 122), (17.2, 227, 275), (17.2, 350, 545),
              (23.4, 77, 122), (23.4, 350, 545), (23.4, 748, 823), (29.6, 77, 122), (29.6, 350, 492), (29.6, 658, 823), (35.9, 650, 823), (42, 650, 823),
              (48.3, 650, 823), (54.5, 748, 823), (54.5, 871, 920), (60.8, 748, 823), (60.8, 871, 920), (79.4, 871, 920), (85.5, 871, 920)]
C2_RULES_H = [(149, 0, 17.8), (232, 0, 41.8), (319, 0, 41.8), (400, 18, 30), (487, 18, 30), (574, 0, 54), (659, 0, 6), (741, 0, 6), (830, 18, 66), (1002, 0, 17.8), (1002, 30, 42)]
C2_RULES_V = [(4.6, 76, 345), (4.6, 545, 741), (4.6, 918, 1007), (10.9, 124, 345), (10.9, 545, 645), (10.9, 918, 1007), (17.2, 124, 345), (17.2, 545, 645), (17.2, 918, 1007),
              (23.4, 223, 645), (23.4, 823, 868), (23.4, 918, 970), (29.6, 223, 345), (29.6, 487, 645), (29.6, 823, 868), (29.6, 918, 970),
              (35.9, 223, 345), (35.9, 545, 645), (35.9, 823, 868), (35.9, 918, 1007), (42, 545, 645), (42, 823, 868), (48.3, 545, 645), (48.3, 823, 868),
              (54.5, 76, 124), (54.5, 823, 868), (60.8, 76, 124), (60.8, 823, 868), (66.9, 76, 124), (66.9, 918, 970), (73.2, 76, 124), (73.2, 918, 970)]

TITLES = ["OP2-4SAT - GLOBE", "OP3-3SAT - GLOBE", "OP3-6SAT - GLOBE"]
ROW_LABELS = ["Temperature\n(K)", "Wind speed\n(m/s)", "Relative\nhumidity (%)", "Geopotential\nheight (m)"]
NOTE_LINES = ["Hatched areas indicate statistical significant results at", "99 % confidence level"]
BODY = [("All EPS-Sterna scenarios tested have a positive", 1), ("impact on forecasts at the global scale, for all", 1),
        ("forecast ranges, all variables and almost all", 1), ("vertical levels, significant at 99% level in most of", 1), ("the cases.", 0),
        ("The degradation on relative humidity forecasts", 1), ("between 500 hPa and 600 hPa at short range", 1), ("comes from the tropics, as presented below.", 0),
        ("Hereafter are compared the temperature", 1), ("forecast errors between the EPS-Sterna", 1), ("scenarios.", 0),
        ("Herafter are compared the forecast errors on", 1), ("temperature between the different EPS-Sterna", 1), ("scenarios.", 0)]
COMPARE_TITLES = ["OP3-3SAT compared to OP2-4SAT - GLOBE", "OP3-6SAT compared to OP2-4SAT - GLOBE"]

SANS = "Liberation Sans"
DEJA = "DejaVu Sans"
WIDTHS = {" ": 278, "f": 278, "i": 222, "j": 222, "l": 222, "t": 278, "r": 333, "c": 500, "k": 500, "s": 500, "v": 500, "x": 500, "y": 500, "z": 500,
          "m": 833, "w": 722, "A": 667, "E": 667, "H": 722, "P": 667, "S": 667, "T": 611, "-": 333, ",": 278, ".": 278, "%": 889}


def tw(s, size):
    return sum(WIDTHS.get(c, 556) for c in s) * size / 1000


def clip(poly, level, keep_above):
    out = []
    n = len(poly)
    for i in range(n):
        a, b = poly[i], poly[(i + 1) % n]
        ia = a[2] >= level if keep_above else a[2] <= level
        ib = b[2] >= level if keep_above else b[2] <= level
        if ia:
            out.append(a)
        if ia != ib:
            t = (level - a[2]) / (b[2] - a[2])
            out.append((a[0] + t * (b[0] - a[0]), a[1] + t * (b[1] - a[1]), level))
    return out


def contour_rows(grid, step):
    rows = []
    pid = 0
    grid = [(list(r) + [r[-1]] * 17)[:17] for r in grid]
    for j in range(len(LEVELS) - 1):
        for i in range(len(HOURS) - 1):
            cell = [(HOURS[i], LEVELS[j], grid[j][i]), (HOURS[i + 1], LEVELS[j], grid[j][i + 1]),
                    (HOURS[i + 1], LEVELS[j + 1], grid[j + 1][i + 1]), (HOURS[i], LEVELS[j + 1], grid[j + 1][i])]
            for k, col in enumerate(COLORS):
                if col == "#ffffff":
                    continue
                lo, hi = (k - 10) * step, (k - 9) * step
                p = cell
                if k > 0:
                    p = clip(p, lo, True)
                if p and k < 19:
                    p = clip(p, hi, False)
                if len(p) >= 3:
                    for o, q in enumerate(p):
                        rows.append({"i": pid, "o": o, "x": round(q[0], 2), "y": round(q[1], 1), "c": col})
                    pid += 1
    return pd.DataFrame(rows)


def spacer(w, h):
    return alt.Chart(pd.DataFrame({"a": [0]})).mark_point(opacity=0).encode(x=alt.value(0), y=alt.value(0)).properties(width=w, height=h)


def texts(rows, w, h, **mark):
    # rows: dicts with px, py, t -- placed straight in the panel's pixel frame
    return alt.Chart(pd.DataFrame(rows)).mark_text(font=SANS, color="black", lineBreak="\n", **mark).encode(
        x=alt.X("px:Q", scale=None, axis=None), y=alt.Y("py:Q", scale=None, axis=None), text="t:N").properties(width=w, height=h)


def panel(grid, step, hr, vr, w, h, xdom, ydom, tick_font, xtick=23, lab_pad=32, ttl_pad=14, xt_dx=-9, yt_dy=0):
    xs = alt.Scale(domain=xdom, nice=False, zero=False)
    ys = alt.Scale(domain=ydom, nice=False, zero=False)
    xax = alt.Axis(values=[24, 48, 72, 96], tickSize=10, tickColor="#222", labelFont=DEJA, labelFontSize=xtick, labelColor="#222", labelPadding=3,
                   title="Forecast range (h)", titleFont=DEJA, titleFontSize=31, titleFontWeight="normal", titleColor="black", titlePadding=ttl_pad,
                   titleX=w / 2 + xt_dx, format="d", grid=False, domain=False, labelFlush=False)
    yax = alt.Axis(values=LEVELS, tickSize=10, tickColor="#222", labelFont=DEJA, labelFontSize=tick_font, labelColor="#222", labelOverlap=False, labelPadding=3,
                   title="Pressure level (hPa)", titleFont=DEJA, titleFontSize=31.5, titleFontWeight="normal", titleColor="black", titlePadding=lab_pad,
                   titleY=h / 2 + yt_dy, format="d", grid=False, domain=False, labelFlush=False)
    base = alt.Chart(contour_rows(grid, step)).mark_line(interpolate="linear-closed", strokeWidth=0.8).encode(
        x=alt.X("x:Q", scale=xs, axis=xax), y=alt.Y("y:Q", scale=ys, axis=yax), detail="i:N", order=alt.Order("o:Q"),
        fill=alt.Fill("c:N", scale=None), stroke=alt.Stroke("c:N", scale=None))
    hz = alt.Chart(pd.DataFrame(hr, columns=["p", "a", "b"])).mark_rule(color="black", strokeWidth=2.6, opacity=0.9).encode(
        x=alt.X("a:Q", scale=xs, axis=xax), x2="b:Q", y=alt.Y("p:Q", scale=ys, axis=yax))
    vt = alt.Chart(pd.DataFrame(vr, columns=["h", "a", "b"])).mark_rule(color="black", strokeWidth=2.6, opacity=0.9).encode(
        x=alt.X("h:Q", scale=xs, axis=xax), y=alt.Y("a:Q", scale=ys, axis=yax), y2="b:Q")
    return alt.layer(base, hz, vt).properties(width=w, height=h, view=alt.ViewBackground(stroke="#222", strokeWidth=1.6))


def expand_h(hp, spec):
    out = []
    for i, p in enumerate(hp):
        for a, b in spec.get(i, [(-6, 102)]):
            out.append((p, a, b))
    return out


def expand_v(spec):
    return [(HX[i], a, b) for idxs, spans in spec for i in idxs for a, b in spans]


def colorbar(step, ticks, dom, w, h, font, fmt, pad):
    ys = alt.Scale(domain=dom, nice=False, zero=False)
    xs = alt.Scale(domain=[0, 1], nice=False, zero=False)
    xax = alt.Axis(labels=False, ticks=False, domain=False, grid=False, title=None)
    lim = 10 * step
    tip = max(abs(dom[0]), abs(dom[1]))
    bands = pd.DataFrame([{"a": (k - 10) * step, "b": (k - 9) * step, "c": c} for k, c in enumerate(COLORS)])
    yax = alt.Axis(orient="right", values=ticks, tickSize=10, tickColor="#222", labelFont=DEJA, labelFontSize=font, labelColor="#222", labelPadding=pad,
                   labelExpr=f"replace(format(datum.value,'{fmt}'),'-','\u2212')", title=None, grid=False, domain=False, labelOverlap=False, labelFlush=False)
    rect = alt.Chart(bands).mark_rect().encode(y=alt.Y("a:Q", scale=ys, axis=yax), y2="b:Q", x=alt.value(0), x2=alt.value(w),
                                               fill=alt.Fill("c:N", scale=None))
    tri = pd.DataFrame([{"i": 0, "o": 0, "x": 0, "y": lim, "c": COLORS[-1]}, {"i": 0, "o": 1, "x": .5, "y": tip, "c": COLORS[-1]}, {"i": 0, "o": 2, "x": 1, "y": lim, "c": COLORS[-1]},
                        {"i": 1, "o": 0, "x": 0, "y": -lim, "c": COLORS[0]}, {"i": 1, "o": 1, "x": .5, "y": -tip, "c": COLORS[0]}, {"i": 1, "o": 2, "x": 1, "y": -lim, "c": COLORS[0]}])
    caps = alt.Chart(tri).mark_line(interpolate="linear-closed", strokeWidth=1).encode(
        x=alt.X("x:Q", scale=xs, axis=xax), y=alt.Y("y:Q", scale=ys, axis=yax), detail="i:N", order=alt.Order("o:Q"),
        fill=alt.Fill("c:N", scale=None), stroke=alt.Stroke("c:N", scale=None))
    out = pd.DataFrame({"o": list(range(6)), "x": [0, 0, .5, 1, 1, .5], "y": [-lim, lim, tip, lim, -lim, -tip]})
    edge = alt.Chart(out).mark_line(interpolate="linear-closed", strokeWidth=1.6, color="#333").encode(
        x=alt.X("x:Q", scale=xs, axis=xax), y=alt.Y("y:Q", scale=ys, axis=yax), order=alt.Order("o:Q"))
    return alt.layer(rect, caps, edge).properties(width=w, height=h)


# ---------- left block ----------
COLW = [535, 438, 16, 23, 233, 438, 16, 23, 235, 439, 15, 24, 77]
ROWH = [120, 312, 157, 312, 156, 313, 156, 312, 32]
ROW_LABEL_Y = [147, 107, 100, 109]
DATA = [[T_OP2, T_OP3, T_OP6], [W_OP2, W_OP3, W_OP6], [R_OP2, R_OP3, R_OP6], [G_OP2, G_OP3, G_OP6]]
SPEC = [[(HP_T, T1H, T1V), (HP_T, T2H, T2V), (HP_T, T3H, T3V)], [(HP_W, W1H, W1V), (HP_W, W2H, W2V), (HP_W, W3H, W3V)],
        [(HP_R, R1H, R1V), (HP_R, R2H, R2V), (HP_R, R3H, R3V)], [(HP_G, G1H, G1V), (HP_G, G2H, G2V), (HP_G, G3H, G3V)]]
cells = []
TITLE_X = {1: 200, 5: 204, 9: 208}
for ri, rh in enumerate(ROWH):
    for ci, cw in enumerate(COLW):
        c = None
        if ri == 0 and ci in TITLE_X:
            c = texts([{"px": TITLE_X[ci], "py": 62, "t": TITLES[(ci - 1) // 4]}], cw, rh, fontSize=59, fontWeight="bold", align="center", baseline="middle")
        elif ri in (1, 3, 5, 7):
            r = (ri - 1) // 2
            if ci == 0:
                c = texts([{"px": 205, "py": ROW_LABEL_Y[r], "t": ROW_LABELS[r]}], cw, rh, fontSize=53.5, fontWeight="bold", fontStyle="italic", align="center", baseline="middle", lineHeight=59)
            elif ci in (1, 5, 9):
                k = (ci - 1) // 4
                hp, hs, vs = SPEC[r][k]
                c = panel(DATA[r][k], 1 / 3, expand_h(hp, hs), expand_v(vs), cw, rh, [-6, 102], [1023, 76], 23)
            elif ci in (3, 7, 11):
                c = colorbar(1 / 3, [-3, -2, -1, 0, 1, 2, 3], [-3.72, 3.67], cw, rh, 22, "d", 7)
        cells.append(c if c is not None else spacer(cw, rh))
left = alt.concat(*cells, columns=len(COLW), spacing=0, bounds="flush", align="each")

# ---------- right block ----------
RCOLW = [507, 494, 17, 26, 130]
RROWH = [1024, 355, 159, 355, 60]
note = [{"px": 574, "py": 37 + 54 * i, "t": s} for i, s in enumerate(NOTE_LINES)]
BODY_Y = [69, 94, 119, 145, 170, 195, 220, 245, 271, 296, 321, 346, 371, 396]
words = []
for (line, just), oy in zip(BODY, BODY_Y):
    ws = line.split(" ")
    total = sum(tw(w, 53) for w in ws)
    gap = (1149 - total) / (len(ws) - 1) if just and len(ws) > 1 else tw(" ", 53)
    px = 14
    for w in ws:
        words.append({"px": round(px, 1), "py": round(oy * 2.3622 - 11, 1), "t": w})
        px += tw(w, 53) + gap
head = alt.layer(
    texts(note, RCOLW[0], RROWH[0], fontSize=48, fontStyle="italic", align="center", baseline="middle"),
    texts(words, RCOLW[0], RROWH[0], fontSize=53, align="left", baseline="middle"),
    texts([{"px": 577, "py": 992, "t": COMPARE_TITLES[0]}], RCOLW[0], RROWH[0], fontSize=48, fontWeight="bold", align="center", baseline="middle"),
).properties(width=RCOLW[0], height=RROWH[0])
rcells = []
for ri, rh in enumerate(RROWH):
    for ci, cw in enumerate(RCOLW):
        c = None
        if ri == 0 and ci == 0:
            c = head
        elif ri == 2 and ci == 0:
            c = texts([{"px": 577, "py": 125, "t": COMPARE_TITLES[1]}], cw, rh, fontSize=48, fontWeight="bold", align="center", baseline="middle")
        elif ri in (1, 3):
            k = (ri - 1) // 2
            if ci == 0:
                c = texts([{"px": 192, "py": rh / 2 + 18, "t": "Temperature\n(K)"}], cw, rh, fontSize=42.5, fontWeight="bold", fontStyle="italic", align="center", baseline="middle", lineHeight=47)
            elif ci == 1:
                grid = C_OP3 if k == 0 else C_OP6
                hr = C1_RULES_H if k == 0 else C2_RULES_H
                vr = C1_RULES_V if k == 0 else C2_RULES_V
                c = panel(grid, 0.1, hr, vr, cw, rh, [0, 96], [1024, 77], 26, xtick=25, lab_pad=26, ttl_pad=13, xt_dx=-47, yt_dy=18)
            elif ci == 3:
                c = colorbar(0.1, [-.9, -.6, -.3, 0, .3, .6, .9], [-1.097, 1.097], cw, rh, 24, ".1f", 9)
        rcells.append(c if c is not None else spacer(cw, rh))
right = alt.concat(*rcells, columns=len(RCOLW), spacing=0, bounds="flush", align="each")

chart = alt.hconcat(left, right, spacing=0).properties(padding=0, background="white").configure_view(stroke="transparent")
chart.save("out.html", embed_options={"renderer": "svg", "actions": False})
